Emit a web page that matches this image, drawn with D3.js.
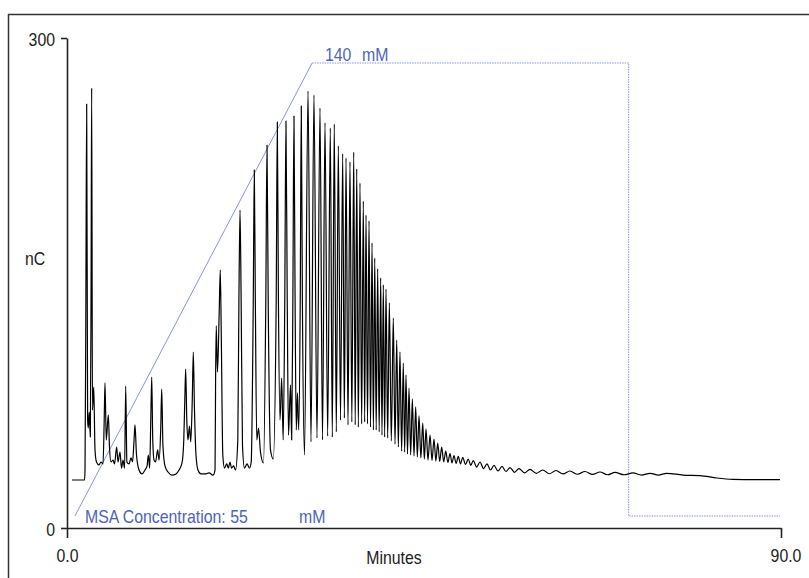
<!DOCTYPE html>
<html>
<head>
<meta charset="utf-8">
<script src="https://cdn.jsdelivr.net/npm/d3@7"></script>
<style>
  html, body { margin: 0; padding: 0; background: #fff; }
  svg { display: block; }
  text { font-family: "Liberation Sans", Arial, sans-serif; font-size: 18px; }
</style>
</head>
<body>
<svg id="chart" width="809" height="578"></svg>
<script>
// Conductivity trace (nC) against retention time (minutes).
// Early, well separated peaks: explicit vertices of the trace.
const earlyMin = [0.63, 2.21, 2.27, 2.37, 2.48, 2.60, 2.68, 2.80, 2.94, 3.03, 3.11, 3.21, 3.37, 3.53, 3.72,
  4.03, 4.29, 4.54, 4.69, 4.79, 4.95, 5.21, 5.36, 5.55, 5.80, 5.99, 6.26, 6.43, 6.68, 6.87, 7.06, 7.26,
  7.40, 7.55, 7.82, 8.07, 8.26, 8.45, 8.57, 8.76, 9.08, 9.45, 9.83, 10.09, 10.25, 10.42, 10.56, 10.68,
  10.81, 10.97, 11.16, 11.43, 11.60, 11.81, 11.94, 12.09, 12.35, 12.73, 13.24, 13.74, 14.12, 14.50,
  14.72, 14.85, 14.96, 15.10, 15.25, 15.44, 15.60, 15.79, 15.92, 16.07, 16.26, 16.51, 16.89, 17.39,
  17.90, 18.40, 18.66, 18.73, 18.81, 18.97, 19.19, 19.32, 19.44, 19.64, 19.85, 20.13, 20.33, 20.55,
  20.74, 20.99, 21.24, 21.53, 21.67, 21.81, 21.95, 22.12, 22.37, 22.69, 23.00, 23.22,
  23.48, 23.61, 23.74, 23.92, 24.14, 24.39, 24.77, 25.06, 25.21, 25.36, 25.65, 26.00, 26.37, 26.51,
  26.65, 26.85, 27.06, 27.25, 27.45, 27.60, 27.76, 27.92, 28.17, 28.32, 28.47, 28.61, 28.75, 28.90,
  29.05, 29.21, 29.40, 29.53, 29.67, 29.94];
const earlyNC = [29.4, 29.4, 35.5, 127.3, 259.6, 66.1, 61.2, 71.0, 55.7, 139.6, 269.4, 72.2, 86.3, 47.8, 40.4,
  38.6, 40.4, 39.2, 66.1, 88.8, 53.9, 69.2, 49.0, 40.4, 41.6, 39.2, 49.6, 40.4, 46.5, 36.7, 41.6, 36.7,
  86.9, 40.4, 39.2, 42.9, 40.4, 53.9, 63.1, 44.7, 35.5, 33.1, 35.5, 38.0, 44.7, 36.7, 66.1, 92.4,
  53.9, 41.6, 40.4, 47.8, 41.6, 60.0, 85.1, 50.8, 38.0, 34.3, 32.4, 33.1, 35.5, 39.8,
  53.9, 78.4, 97.3, 66.1, 53.9, 62.4, 52.7, 78.4, 107.7, 72.2, 44.7, 35.5, 33.1, 33.1,
  33.7, 32.4, 35.5, 90.0, 123.7, 95.5, 133.5, 157.9, 121.2, 44.7, 36.7, 39.2, 36.7, 40.4,
  36.7, 38.0, 35.5, 53.9, 139.6, 194.7, 139.6, 50.8, 36.7, 39.2, 36.7, 40.4,
  139.6, 219.2, 139.6, 53.9, 61.2, 46.5, 39.8, 139.6, 234.5, 139.6, 47.8, 42.2, 139.6, 248.6,
  139.6, 66.1, 91.8, 53.9, 139.6, 249.2, 139.6, 56.9, 87.6, 53.9, 139.6, 252.2, 139.6, 60.0,
  82.7, 60.0, 139.6, 258.4, 139.6, 44.7];

// Oligomer ladder: apex time, apex height and the valley that follows each apex.
const ladderMin = [30.38, 31.13, 31.89, 32.52, 33.19, 33.69, 34.20, 34.75, 35.17, 35.67, 36.14, 36.52,
  36.93, 37.35, 37.69, 38.07, 38.45, 38.79, 39.16, 39.54, 39.87, 40.21, 40.63, 41.13, 41.56, 41.97,
  42.39, 42.73, 43.11, 43.53, 43.95, 44.37, 44.84, 45.25, 45.76, 46.26, 46.73, 47.23, 47.74, 48.28,
  48.78, 49.32, 49.88, 50.58, 51.21, 52.06, 52.94, 53.82, 54.83, 55.84, 56.97, 58.36, 59.96, 61.64,
  63.40, 65.29, 67.18, 69.08, 71.34, 73.49, 75.59];
const ladderNC = [267.5, 265.1, 257.1, 248.0, 244.9, 247.3, 233.9, 229.0, 226.5, 224.1, 230.2, 219.8,
  211.2, 200.2, 191.6, 188.0, 174.5, 165.3, 158.6, 153.1, 148.8, 146.3, 137.8, 128.6, 115.1, 107.8,
  101.0, 93.7, 85.7, 79.0, 74.1, 68.6, 64.3, 60.6, 56.9, 54.5, 52.0, 49.6, 47.1, 45.6,
  44.4, 43.8, 43.2, 42.2, 41.3, 40.4, 39.2, 38.3, 37.7, 37.0, 36.4, 35.9, 35.5, 35.2,
  34.9, 34.6, 34.3, 34.0, 33.7, 33.5, 33.5];
const ladderValleyNC = [52.7, 55.1, 53.9, 56.3, 55.7, 58.8, 66.1, 67.3, 63.1, 64.9, 63.1, 61.8,
  63.7, 64.9, 63.7, 61.8, 60.0, 60.0, 58.8, 56.9, 55.7, 55.1, 53.3, 51.4, 49.6, 47.1,
  46.5, 45.3, 44.7, 44.1, 43.5, 42.9, 42.2, 41.6, 41.3, 41.0, 40.7, 40.4, 40.1, 39.8,
  39.5, 39.2, 38.9, 38.3, 37.3, 36.4, 35.5, 34.9, 34.6, 34.1, 33.8, 33.5, 33.2, 33.1,
  32.9, 32.8, 32.6, 32.6, 32.4, 32.4];

// Late baseline drift to the end of the run.
const tailMin = [77.65, 79.79, 81.93, 83.95, 86.72, 89.87];
const tailNC = [32.4, 32.1, 30.6, 29.8, 29.6, 29.6];

// MSA eluent gradient program (mM).
const gradientMin = [1.0, 30.9, 70.8, 70.8, 89.9];
const gradientMM = [55, 140, 140, 55, 55];

// Axis ticks.
const xTicks = [0, 90];
const xTickLabels = ["0.0", "90.0"];
const yTicks = [0, 300];
const yTickLabels = ["0", "300"];

const svg = d3.select("#chart");
const W = 809, H = 578;
const plot = { left: 67, right: 781, top: 38, bottom: 528 };

const x = d3.scaleLinear().domain([0, 90]).range([plot.left, plot.right]);
const y = d3.scaleLinear().domain([0, 300]).range([plot.bottom, plot.top]);
// The gradient is drawn on its own concentration scale.
const yMM = d3.scaleLinear().domain([55, 140]).range([plot.bottom - 12, plot.top + 25]);

const ink = "#222";
const blueLine = "#8497d8";
const blueText = "#4e64b9";
const squeeze = 0.88;

// Outer frame (left and top edges).
svg.append("line").attr("x1", 8.5).attr("x2", 8.5).attr("y1", 14).attr("y2", H)
  .attr("stroke", "#333").attr("stroke-width", 1.5);
svg.append("line").attr("x1", 8).attr("x2", W).attr("y1", 14.5).attr("y2", 14.5)
  .attr("stroke", "#333").attr("stroke-width", 1.5);

// Gradient program: solid ramp, dotted hold / step-down.
const gradPts = gradientMin.map((t, i) => [t, gradientMM[i]]);
const gradLine = d3.line().x(d => x(d[0])).y(d => yMM(d[1]));
svg.append("path").attr("d", gradLine(gradPts.slice(0, 2)))
  .attr("fill", "none").attr("stroke", blueLine).attr("stroke-width", 1);
svg.append("path").attr("d", gradLine(gradPts.slice(1)))
  .attr("fill", "none").attr("stroke", blueLine).attr("stroke-width", 1)
  .attr("stroke-dasharray", "1.5,1");

// Assemble the trace vertices.
const trace = earlyMin.map((t, i) => [t, earlyNC[i]]);
ladderMin.forEach((t, i) => {
  trace.push([t, ladderNC[i]]);
  if (i < ladderMin.length - 1) {
    trace.push([(t + ladderMin[i + 1]) / 2, ladderValleyNC[i]]);
  }
});
tailMin.forEach((t, i) => trace.push([t, tailNC[i]]));

const traceLine = d3.line().x(d => x(d[0])).y(d => y(d[1])).curve(d3.curveMonotoneX);
svg.append("path").attr("d", traceLine(trace))
  .attr("fill", "none").attr("stroke", "#000").attr("stroke-width", 1.2)
  .attr("stroke-linejoin", "round");

// Axes (lines and ticks from d3, labels set separately).
const yAxis = d3.axisLeft(y).tickValues(yTicks).tickSize(6).tickSizeOuter(0).tickFormat("");
const gy = svg.append("g").attr("transform", `translate(${plot.left},0)`).call(yAxis);
const xAxis = d3.axisBottom(x).tickValues(xTicks).tickSize(10).tickSizeOuter(0).tickFormat("");
const gx = svg.append("g").attr("transform", `translate(0,${plot.bottom})`).call(xAxis);
[gy, gx].forEach(g => {
  g.selectAll("path, line").attr("stroke", ink).attr("stroke-width", 1.6);
});

function label(txt, px, py, anchor, color) {
  svg.append("text")
    .attr("transform", `translate(${px},${py}) scale(${squeeze},1)`)
    .attr("text-anchor", anchor)
    .attr("fill", color)
    .text(txt);
}

yTicks.forEach((v, i) => label(yTickLabels[i], plot.left - 12, y(v) + 8, "end", ink));
xTicks.forEach((v, i) => label(xTickLabels[i], x(v) + (i === 0 ? 0.5 : 5), plot.bottom + 34, "middle", ink));
label("nC", 25, 265, "start", ink);
label("Minutes", 394, 564, "middle", ink);

label("140", 325, 60.5, "start", blueText);
label("mM", 362, 60.5, "start", blueText);
label("MSA Concentration: 55", 85, 523, "start", blueText);
label("mM", 299, 523, "start", blueText);
</script>
</body>
</html>
